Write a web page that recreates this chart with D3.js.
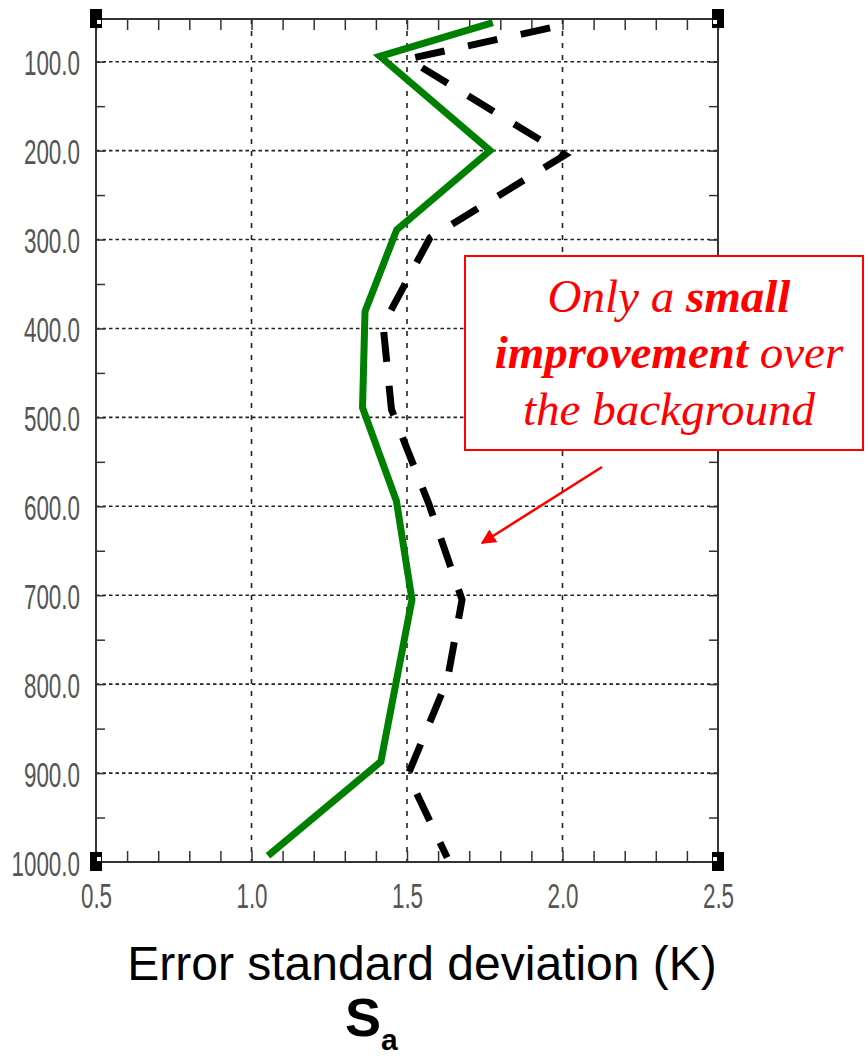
<!DOCTYPE html>
<meta charset="utf-8">
<style>
body { margin: 0; background: #fff; }
.tick line { stroke: #333; stroke-width: 1.5px; }
.domain { display: none; }
.lbl text { font-family: "Liberation Sans", Arial, sans-serif; font-size: 35px; fill: #555; }
</style>
<body>
<svg width="865" height="1057"></svg>
<script src="https://cdn.jsdelivr.net/npm/d3@7"></script>
<script>

// values: S_a (K) against pressure level (hPa)
var greenSa = [1.776, 1.413, 1.767, 1.467, 1.365, 1.357, 1.466, 1.516, 1.416, 1.053];
var greenP  = [56, 94, 200, 289, 381, 489, 594, 705, 887, 993];

var dashSa = [1.96, 1.503, 2.008, 1.574, 1.423, 1.45, 1.571, 1.677, 1.63, 1.503, 1.629];
var dashP  = [62, 97, 205, 298, 396, 491, 598, 705, 795, 902, 995];

var xMajor = [0.5, 1.0, 1.5, 2.0, 2.5];
var yMajor = [100, 200, 300, 400, 500, 600, 700, 800, 900, 1000];
var xMinor = d3.range(5, 26).map(function(i) { return i / 10; });
var yMinor = d3.range(2, 20).map(function(i) { return i * 50; });

var svg = d3.select("svg");

var x = d3.scaleLinear().domain([0.5, 2.5]).range([96, 718]);
var y = d3.scaleLinear().domain([52, 1000]).range([19, 862]);

var x0 = x.range()[0], x1 = x.range()[1],
    y0 = y.range()[0], y1 = y.range()[1];

// grid
svg.append("g").selectAll("line")
    .data(yMajor.filter(function(d) { return d < 1000; }))
  .enter().append("line")
    .attr("x1", x0).attr("x2", x1)
    .attr("y1", function(d) { return y(d); })
    .attr("y2", function(d) { return y(d); })
    .attr("stroke", "#222").attr("stroke-width", 1.6)
    .attr("stroke-dasharray", "3.5,3");

svg.append("g").selectAll("line")
    .data([1.0, 1.5, 2.0])
  .enter().append("line")
    .attr("y1", y0).attr("y2", y1)
    .attr("x1", function(d) { return x(d); })
    .attr("x2", function(d) { return x(d); })
    .attr("stroke", "#222").attr("stroke-width", 1.6)
    .attr("stroke-dasharray", "5,7");

// inward ticks on all four sides
svg.append("g").attr("transform", "translate(0," + y1 + ")")
    .call(d3.axisTop(x).tickValues(xMinor).tickSize(11).tickSizeOuter(0).tickFormat(""));
svg.append("g").attr("transform", "translate(0," + y0 + ")")
    .call(d3.axisBottom(x).tickValues(xMinor).tickSize(11).tickSizeOuter(0).tickFormat(""));
svg.append("g").attr("transform", "translate(" + x0 + ",0)")
    .call(d3.axisRight(y).tickValues(yMinor).tickSize(9).tickSizeOuter(0).tickFormat(""));
svg.append("g").attr("transform", "translate(" + x1 + ",0)")
    .call(d3.axisLeft(y).tickValues(yMinor).tickSize(9).tickSizeOuter(0).tickFormat(""));

// frame
svg.append("rect")
    .attr("x", x0).attr("y", y0)
    .attr("width", x1 - x0).attr("height", y1 - y0)
    .attr("fill", "none").attr("stroke", "#333").attr("stroke-width", 2);

// corner blocks
var corners = [[x0, y0], [x1, y0], [x0, y1], [x1, y1]];
svg.append("g").selectAll("rect")
    .data(corners)
  .enter().append("rect")
    .attr("x", function(d) { return d[0] - 6; })
    .attr("y", function(d) { return d[1] - 10; })
    .attr("width", 12).attr("height", 19)
    .attr("fill", "#000");
svg.append("g").selectAll("rect")
    .data(corners)
  .enter().append("rect")
    .attr("x", function(d) { return d[0] === x0 ? d[0] + 1 : d[0] - 5; })
    .attr("y", function(d) { return d[1] === y0 ? d[1] + 1 : d[1] - 5; })
    .attr("width", 4).attr("height", 4)
    .attr("fill", "#fff");

// tick labels (narrow font look)
var yl = svg.append("g").attr("class", "lbl").attr("transform", "translate(" + x0 + ",0)")
    .call(d3.axisLeft(y).tickValues(yMajor).tickSize(0).tickFormat(d3.format(".1f")));
yl.selectAll(".tick line").remove();
yl.selectAll("text")
    .attr("x", 0).attr("dy", null)
    .attr("transform", "translate(-16,13) scale(0.64,1)");

var xl = svg.append("g").attr("class", "lbl").attr("transform", "translate(0," + y1 + ")")
    .call(d3.axisBottom(x).tickValues(xMajor).tickSize(0).tickFormat(d3.format(".1f")));
xl.selectAll(".tick line").remove();
xl.selectAll("text")
    .attr("y", 0).attr("dy", null)
    .attr("transform", "translate(0,46) scale(0.64,1)");

// profiles
var line = d3.line()
    .x(function(d) { return x(d[0]); })
    .y(function(d) { return y(d[1]); });

svg.append("path")
    .datum(dashSa.map(function(v, i) { return [v, dashP[i]]; }))
    .attr("d", line)
    .attr("fill", "none").attr("stroke", "#000").attr("stroke-width", 7)
    .attr("stroke-dasharray", "30,24");

svg.append("path")
    .datum(greenSa.map(function(v, i) { return [v, greenP[i]]; }))
    .attr("d", line)
    .attr("fill", "none").attr("stroke", "#008000").attr("stroke-width", 7)
    .attr("stroke-linejoin", "miter");

// annotation box
svg.append("rect")
    .attr("x", 465).attr("y", 256)
    .attr("width", 398).attr("height", 194)
    .attr("fill", "#fff").attr("stroke", "#f00").attr("stroke-width", 2);

var note = svg.append("text")
    .attr("text-anchor", "middle")
    .attr("font-family", "'Liberation Serif', 'Times New Roman', serif")
    .attr("font-style", "italic")
    .attr("font-size", 47)
    .attr("fill", "#f00");
var l1 = note.append("tspan").attr("x", 669).attr("y", 312);
l1.append("tspan").text("Only a ");
l1.append("tspan").attr("font-weight", "bold").text("small");
var l2 = note.append("tspan").attr("x", 669).attr("y", 368);
l2.append("tspan").attr("font-weight", "bold").text("improvement");
l2.append("tspan").text(" over");
note.append("tspan").attr("x", 669).attr("y", 425).text("the background");

// arrow
svg.append("defs").append("marker")
    .attr("id", "head")
    .attr("viewBox", "0 -5 10 10")
    .attr("refX", 9).attr("refY", 0)
    .attr("markerWidth", 6).attr("markerHeight", 6)
    .attr("markerUnits", "strokeWidth")
    .attr("orient", "auto")
  .append("path")
    .attr("d", "M0,-5L10,0L0,5Z")
    .attr("fill", "#f00");

svg.append("line")
    .attr("x1", 602).attr("y1", 467)
    .attr("x2", 482).attr("y2", 543)
    .attr("stroke", "#f00").attr("stroke-width", 2.5)
    .attr("marker-end", "url(#head)");

// axis title
svg.append("text")
    .attr("x", 422).attr("y", 980)
    .attr("text-anchor", "middle")
    .attr("font-family", "'Liberation Sans', Arial, sans-serif")
    .attr("font-size", 48)
    .attr("fill", "#000")
    .text("Error standard deviation (K)");

var sa = svg.append("text")
    .attr("x", 345).attr("y", 1036)
    .attr("font-family", "'Liberation Sans', Arial, sans-serif")
    .attr("font-weight", "bold")
    .attr("fill", "#000");
sa.append("tspan").attr("font-size", 54).text("S");
sa.append("tspan").attr("font-size", 30).attr("dy", 14).text("a");

</script>
</body>
